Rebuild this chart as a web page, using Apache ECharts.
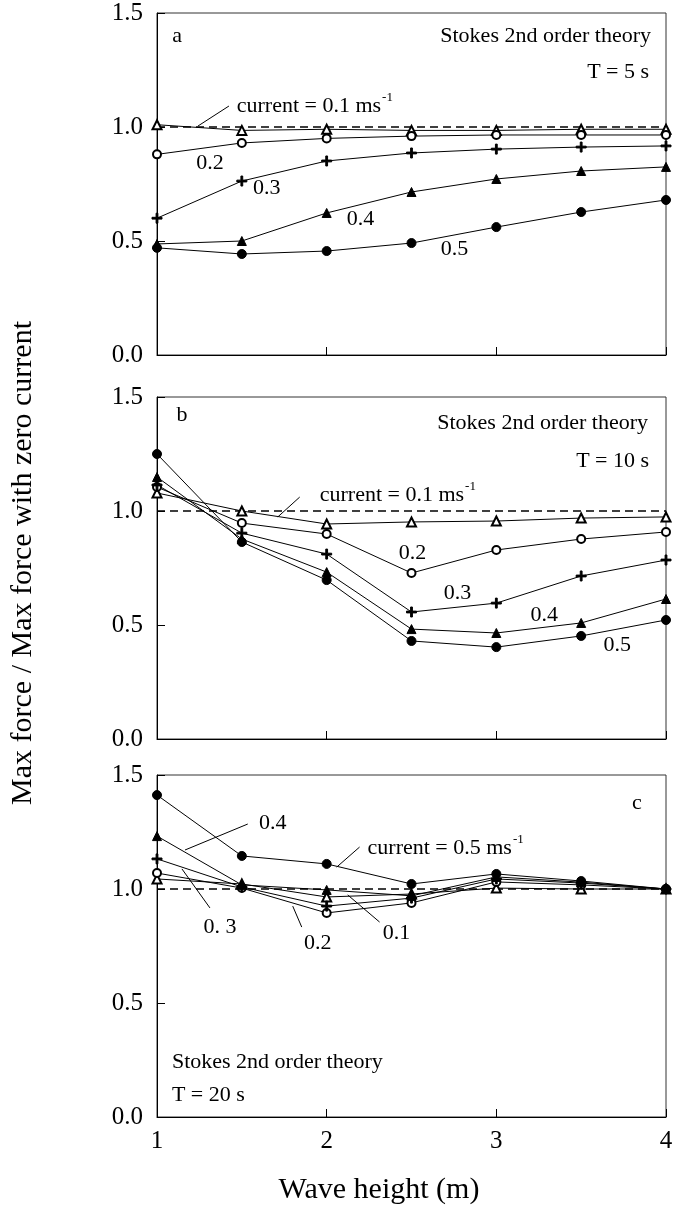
<!DOCTYPE html>
<html>
<head>
<meta charset="utf-8">
<script src="https://cdn.jsdelivr.net/npm/echarts@6/dist/echarts.min.js"></script>
<style>
html,body{margin:0;padding:0;background:#fff;}
#chart{width:683px;height:1205px;}
</style>
</head>
<body>
<div id="chart"></div>
<script>
// ---- Data ----
const waveHeight = [1, 1.5, 2, 2.5, 3, 3.5, 4];
const currents = ['0.1', '0.2', '0.3', '0.4', '0.5'];
const yTicks = [0, 0.5, 1.0, 1.5];
const xTicks = [1, 2, 3, 4];
const zeroCurrentRef = [1, 1];  // ratio = 1 across x = 1..4

// Panel a: T = 5 s
const a01 = [1.01, 0.985, 0.99, 0.985, 0.985, 0.99, 0.99];
const a02 = [0.88, 0.93, 0.95, 0.96, 0.965, 0.965, 0.965];
const a03 = [0.60, 0.763, 0.851, 0.886, 0.903, 0.912, 0.917];
const a04 = [0.487, 0.50, 0.623, 0.715, 0.772, 0.807, 0.825];
const a05 = [0.47, 0.443, 0.456, 0.491, 0.561, 0.627, 0.68];
// Panel b: T = 10 s
const b01 = [1.079, 1.0, 0.943, 0.952, 0.956, 0.969, 0.974];
const b02 = [1.105, 0.947, 0.899, 0.728, 0.829, 0.877, 0.908];
const b03 = [1.114, 0.903, 0.811, 0.557, 0.596, 0.715, 0.785];
const b04 = [1.149, 0.877, 0.732, 0.482, 0.465, 0.509, 0.614];
const b05 = [1.25, 0.864, 0.697, 0.43, 0.403, 0.452, 0.522];
// Panel c: T = 20 s
const c01 = [1.044, 1.022, 0.965, 0.978, 1.004, 1.0, 1.0];
const c02 = [1.07, 1.004, 0.895, 0.939, 1.031, 1.018, 1.0];
const c03 = [1.132, 1.009, 0.925, 0.96, 1.044, 1.026, 1.0];
const c04 = [1.232, 1.018, 0.996, 0.97, 1.053, 1.03, 1.0];
const c05 = [1.412, 1.145, 1.11, 1.022, 1.066, 1.035, 1.0];

const panelData = [
  [a01, a02, a03, a04, a05],
  [b01, b02, b03, b04, b05],
  [c01, c02, c03, c04, c05]
];
const panelLetters = ['a', 'b', 'c'];
const panelPeriods = ['T = 5 s', 'T = 10 s', 'T = 20 s'];
const theoryText = 'Stokes 2nd order theory';

// Annotation anchors in data coordinates: [panel, x, y, text, align]
const curveLabels = [
  [0, 1.312, 0.842, '0.2'], [0, 1.647, 0.732, '0.3'], [0, 2.2, 0.596, '0.4'], [0, 2.753, 0.465, '0.5'],
  [1, 2.506, 0.816, '0.2'], [1, 2.771, 0.640, '0.3'], [1, 3.282, 0.544, '0.4'], [1, 3.712, 0.412, '0.5'],
  [2, 1.682, 1.289, '0.4'], [2, 1.371, 0.833, '0. 3'], [2, 1.947, 0.763, '0.2'], [2, 2.412, 0.807, '0.1']
];
// Current labels with superscript: [panel, x(left), y, value]
const currentLabels = [
  [0, 1.47, 1.10, '0.1'], [1, 1.959, 1.079, '0.1'], [2, 2.241, 1.189, '0.5']
];
// Leader lines: [panel, x1, y1, x2, y2]
const leaders = [
  [0, 1.424, 1.092, 1.241, 1.004],
  [1, 1.841, 1.061, 1.712, 0.974],
  [2, 1.535, 1.285, 1.165, 1.171],
  [2, 2.194, 1.184, 2.059, 1.096],
  [2, 1.312, 0.917, 1.147, 1.088],
  [2, 1.853, 0.833, 1.800, 0.925],
  [2, 2.312, 0.855, 2.124, 0.974]
];
// Panel texts: [panel, x, y, text, align]
const panelTexts = [
  [0, 1.118, 1.399, 'a', 'center'], [0, 3.912, 1.399, theoryText, 'right'], [0, 3.9, 1.241, 'T = 5 s', 'right'],
  [1, 1.147, 1.421, 'b', 'center'], [1, 3.894, 1.386, theoryText, 'right'], [1, 3.9, 1.219, 'T = 10 s', 'right'],
  [2, 3.829, 1.377, 'c', 'center'], [2, 1.088, 0.241, theoryText, 'left'], [2, 1.088, 0.096, 'T = 20 s', 'left']
];

// ---- Styles ----
const FONT = '"Liberation Serif", "Times New Roman", serif';
const PLUS = 'path://M4.1,0H5.9V4.1H10V5.9H5.9V10H4.1V5.9H0V4.1H4.1Z';
const symbols = ['emptyTriangle', 'emptyCircle', PLUS, 'triangle', 'circle'];
const symSizes = [9, 8, 10, 9, 9];
const gridTops = [13, 397, 775];

const chart = echarts.init(document.getElementById('chart'), null, {renderer: 'canvas'});

const grids = gridTops.map(t => ({
  left: 157, top: t, width: 509, height: 342,
  show: true, borderColor: '#333', borderWidth: 1, containLabel: false
}));
const xAxes = gridTops.map((t, i) => ({
  type: 'value', gridIndex: i, min: xTicks[0], max: xTicks[xTicks.length - 1], interval: 1,
  axisLine: {show: true, lineStyle: {color: '#000', width: 1}},
  axisTick: {show: true, inside: true, length: 8, lineStyle: {color: '#000'}},
  splitLine: {show: false},
  axisLabel: {show: i === 2, color: '#000', fontFamily: FONT, fontSize: 25, margin: 12}
}));
const yAxes = gridTops.map((t, i) => ({
  type: 'value', gridIndex: i, min: yTicks[0], max: yTicks[yTicks.length - 1], interval: 0.5,
  axisLine: {show: true, lineStyle: {color: '#000', width: 1}},
  axisTick: {show: true, inside: true, length: 8, lineStyle: {color: '#000'}},
  splitLine: {show: false},
  axisLabel: {color: '#000', fontFamily: FONT, fontSize: 25, margin: 14,
    formatter: v => v.toFixed(1)}
}));

const series = [];
panelData.forEach((sets, p) => {
  series.push({
    type: 'line', name: 'zero current', xAxisIndex: p, yAxisIndex: p,
    data: [[xTicks[0], zeroCurrentRef[0]], [xTicks[xTicks.length - 1], zeroCurrentRef[1]]],
    symbol: 'none', silent: true, z: 1,
    lineStyle: {color: '#000', width: 1.3, type: [8, 5]}
  });
  sets.forEach((vals, k) => {
    series.push({
      type: 'line', name: currents[k], xAxisIndex: p, yAxisIndex: p,
      data: waveHeight.map((x, j) => [x, vals[j]]),
      symbol: symbols[k], symbolSize: symSizes[k],
      showAllSymbol: true,
      lineStyle: {color: '#000', width: 1},
      itemStyle: {color: '#000', borderColor: '#000', borderWidth: 1},
      z: 3
    });
  });
});

chart.setOption({
  animation: false,
  backgroundColor: '#fff',
  grid: grids, xAxis: xAxes, yAxis: yAxes, series: series
});

function px(p, x, y) { return chart.convertToPixel({gridIndex: p}, [x, y]); }

const graphics = [];
// axis titles
graphics.push({
  type: 'text', x: 379, y: 1190,
  style: {text: 'Wave height (m)', font: '30px ' + FONT, fill: '#000', align: 'center', verticalAlign: 'middle'}
});
graphics.push({
  type: 'text', x: 23, y: 563, rotation: Math.PI / 2,
  style: {text: 'Max force / Max force with zero current', font: '30px ' + FONT, fill: '#000', align: 'center', verticalAlign: 'middle'}
});
panelTexts.forEach(([p, x, y, t, al]) => {
  const [X, Y] = px(p, x, y);
  graphics.push({type: 'text', x: X, y: Y,
    style: {text: t, font: '22px ' + FONT, fill: '#000', align: al, verticalAlign: 'middle'}});
});
curveLabels.forEach(([p, x, y, t]) => {
  const [X, Y] = px(p, x, y);
  graphics.push({type: 'text', x: X, y: Y,
    style: {text: t, font: '22px ' + FONT, fill: '#000', align: 'center', verticalAlign: 'middle'}});
});
currentLabels.forEach(([p, x, y, v]) => {
  const [X, Y] = px(p, x, y);
  graphics.push({type: 'text', x: X, y: Y,
    style: {
      text: '{n|current = ' + v + ' ms}{s|-1}',
      align: 'left', verticalAlign: 'middle',
      rich: {
        n: {font: '22px ' + FONT, fill: '#000', lineHeight: 26, verticalAlign: 'bottom'},
        s: {font: '13px ' + FONT, fill: '#000', lineHeight: 26, verticalAlign: 'top', padding: [0, 0, 0, 1]}
      }
    }});
});
leaders.forEach(([p, x1, y1, x2, y2]) => {
  const [X1, Y1] = px(p, x1, y1);
  const [X2, Y2] = px(p, x2, y2);
  graphics.push({type: 'line', shape: {x1: X1, y1: Y1, x2: X2, y2: Y2},
    style: {stroke: '#000', lineWidth: 1}, z: 10});
});

chart.setOption({graphic: graphics});
</script>
</body>
</html>
